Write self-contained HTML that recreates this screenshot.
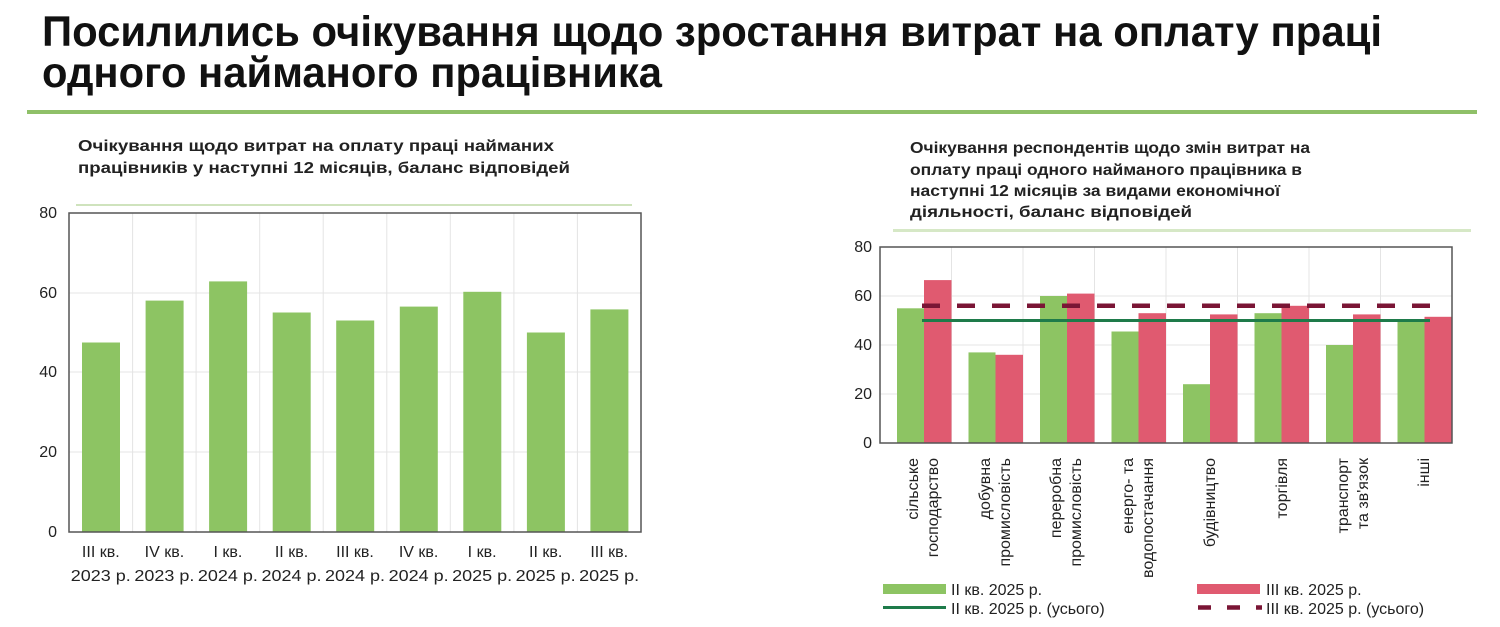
<!DOCTYPE html>
<html><head><meta charset="utf-8"><style>
html,body{margin:0;padding:0;background:#fff;}
svg{display:block;}
text{font-family:"Liberation Sans",sans-serif;}
</style></head><body>
<svg width="1500" height="627" viewBox="0 0 1500 627" xmlns="http://www.w3.org/2000/svg">
<text x="42" y="46" font-size="43" font-weight="bold" fill="#111" textLength="1340" lengthAdjust="spacingAndGlyphs">Посилились очікування щодо зростання витрат на оплату праці</text>
<text x="42" y="87" font-size="43" font-weight="bold" fill="#111" textLength="620" lengthAdjust="spacingAndGlyphs">одного найманого працівника</text>
<rect x="27" y="110" width="1450" height="4" fill="#8fc068"/>

<text x="78" y="151" font-size="16" font-weight="bold" fill="#222" textLength="476" lengthAdjust="spacingAndGlyphs">Очікування щодо витрат на оплату праці найманих</text>
<text x="78" y="173" font-size="16" font-weight="bold" fill="#222" textLength="492" lengthAdjust="spacingAndGlyphs">працівників у наступні 12 місяців, баланс відповідей</text>
<rect x="76" y="204" width="556" height="2" fill="#cfe3bd"/>

<g stroke="#e4e4e4" stroke-width="1">
<line x1="69" y1="452" x2="641" y2="452"/><line x1="69" y1="372" x2="641" y2="372"/><line x1="69" y1="293" x2="641" y2="293"/>
<line x1="132.6" y1="213" x2="132.6" y2="532"/><line x1="196.1" y1="213" x2="196.1" y2="532"/><line x1="259.7" y1="213" x2="259.7" y2="532"/><line x1="323.2" y1="213" x2="323.2" y2="532"/><line x1="386.8" y1="213" x2="386.8" y2="532"/><line x1="450.3" y1="213" x2="450.3" y2="532"/><line x1="513.9" y1="213" x2="513.9" y2="532"/><line x1="577.4" y1="213" x2="577.4" y2="532"/>
</g>
<g fill="#8dc463">
<rect x="82" y="342.5" width="38" height="189.5"/>
<rect x="145.6" y="300.6" width="38" height="231.4"/>
<rect x="209.1" y="281.4" width="38" height="250.6"/>
<rect x="272.7" y="312.5" width="38" height="219.5"/>
<rect x="336.2" y="320.5" width="38" height="211.5"/>
<rect x="399.8" y="306.6" width="38" height="225.4"/>
<rect x="463.3" y="291.8" width="38" height="240.2"/>
<rect x="526.9" y="332.5" width="38" height="199.5"/>
<rect x="590.4" y="309.4" width="38" height="222.6"/>
</g>
<rect x="69" y="213" width="572" height="319" fill="none" stroke="#555" stroke-width="1.5"/>
<g font-size="16" fill="#222" text-anchor="end">
<text x="57" y="218">80</text><text x="57" y="298">60</text><text x="57" y="377">40</text><text x="57" y="457">20</text><text x="57" y="537">0</text>
</g>
<g font-size="16" fill="#222" text-anchor="middle">
<text x="100.8" y="557">III кв.</text><text x="100.8" y="581" textLength="60" lengthAdjust="spacingAndGlyphs">2023 р.</text>
<text x="164.4" y="557">IV кв.</text><text x="164.4" y="581" textLength="60" lengthAdjust="spacingAndGlyphs">2023 р.</text>
<text x="227.9" y="557">I кв.</text><text x="227.9" y="581" textLength="60" lengthAdjust="spacingAndGlyphs">2024 р.</text>
<text x="291.5" y="557">II кв.</text><text x="291.5" y="581" textLength="60" lengthAdjust="spacingAndGlyphs">2024 р.</text>
<text x="355" y="557">III кв.</text><text x="355" y="581" textLength="60" lengthAdjust="spacingAndGlyphs">2024 р.</text>
<text x="418.6" y="557">IV кв.</text><text x="418.6" y="581" textLength="60" lengthAdjust="spacingAndGlyphs">2024 р.</text>
<text x="482.1" y="557">I кв.</text><text x="482.1" y="581" textLength="60" lengthAdjust="spacingAndGlyphs">2025 р.</text>
<text x="545.7" y="557">II кв.</text><text x="545.7" y="581" textLength="60" lengthAdjust="spacingAndGlyphs">2025 р.</text>
<text x="609.2" y="557">III кв.</text><text x="609.2" y="581" textLength="60" lengthAdjust="spacingAndGlyphs">2025 р.</text>
</g>

<g font-size="16" font-weight="bold" fill="#222">
<text x="910" y="153" textLength="400" lengthAdjust="spacingAndGlyphs">Очікування респондентів щодо змін витрат на</text>
<text x="910" y="175" textLength="392" lengthAdjust="spacingAndGlyphs">оплату праці одного найманого працівника в</text>
<text x="910" y="196" textLength="370" lengthAdjust="spacingAndGlyphs">наступні 12 місяців за видами економічної</text>
<text x="910" y="217" textLength="282" lengthAdjust="spacingAndGlyphs">діяльності, баланс відповідей</text>
</g>
<rect x="893" y="229" width="578" height="3" fill="#d6e8c6"/>

<g stroke="#e4e4e4" stroke-width="1">
<line x1="880" y1="394" x2="1452" y2="394"/><line x1="880" y1="345" x2="1452" y2="345"/><line x1="880" y1="296" x2="1452" y2="296"/>
<line x1="951.5" y1="247" x2="951.5" y2="443"/><line x1="1023" y1="247" x2="1023" y2="443"/><line x1="1094.5" y1="247" x2="1094.5" y2="443"/><line x1="1166" y1="247" x2="1166" y2="443"/><line x1="1237.5" y1="247" x2="1237.5" y2="443"/><line x1="1309" y1="247" x2="1309" y2="443"/><line x1="1380.5" y1="247" x2="1380.5" y2="443"/>
</g>
<g fill="#8dc463">
<rect x="897" y="308.3" width="27" height="134.7"/>
<rect x="968.5" y="352.4" width="27" height="90.6"/>
<rect x="1040" y="296" width="27" height="147"/>
<rect x="1111.5" y="331.5" width="27" height="111.5"/>
<rect x="1183" y="384.2" width="27" height="58.8"/>
<rect x="1254.5" y="313.2" width="27" height="129.8"/>
<rect x="1326" y="345" width="27" height="98"/>
<rect x="1397.5" y="320.5" width="27" height="122.5"/>
</g>
<g fill="#e05a70">
<rect x="924" y="280.1" width="27.5" height="162.9"/>
<rect x="995.5" y="354.8" width="27.5" height="88.2"/>
<rect x="1067" y="293.6" width="27.5" height="149.4"/>
<rect x="1138.5" y="313.2" width="27.5" height="129.8"/>
<rect x="1210" y="314.4" width="27.5" height="128.6"/>
<rect x="1281.5" y="305.8" width="27.5" height="137.2"/>
<rect x="1353" y="314.4" width="27.5" height="128.6"/>
<rect x="1424.5" y="316.8" width="27.5" height="126.2"/>
</g>
<line x1="922" y1="320.5" x2="1430" y2="320.5" stroke="#1e7b4a" stroke-width="3"/>
<line x1="922" y1="305.8" x2="1430" y2="305.8" stroke="#7a1535" stroke-width="4.5" stroke-dasharray="18,17"/>
<rect x="880" y="247" width="572" height="196" fill="none" stroke="#555" stroke-width="1.5"/>
<g font-size="16" fill="#222" text-anchor="end">
<text x="872" y="252">80</text><text x="872" y="301">60</text><text x="872" y="350">40</text><text x="872" y="399">20</text><text x="872" y="448">0</text>
</g>
<g font-size="16" fill="#222" text-anchor="end">
<g transform="translate(918,458) rotate(-90)"><text x="0" y="0">сільське</text><text x="0" y="20">господарство</text></g>
<g transform="translate(990,458) rotate(-90)"><text x="0" y="0">добувна</text><text x="0" y="20">промисловість</text></g>
<g transform="translate(1061,458) rotate(-90)"><text x="0" y="0">переробна</text><text x="0" y="20">промисловість</text></g>
<g transform="translate(1133,458) rotate(-90)"><text x="0" y="0">енерго- та</text><text x="0" y="20">водопостачання</text></g>
<g transform="translate(1215,458) rotate(-90)"><text x="0" y="0">будівництво</text></g>
<g transform="translate(1287,458) rotate(-90)"><text x="0" y="0">торгівля</text></g>
<g transform="translate(1348,458) rotate(-90)"><text x="0" y="0">транспорт</text><text x="0" y="20">та зв'язок</text></g>
<g transform="translate(1429,458) rotate(-90)"><text x="0" y="0">інші</text></g>
</g>
<rect x="883" y="584" width="63" height="10" fill="#8dc463"/>
<rect x="1197" y="584" width="63" height="10" fill="#e05a70"/>
<line x1="883" y1="607.5" x2="946" y2="607.5" stroke="#1e7b4a" stroke-width="3"/>
<line x1="1198" y1="607.5" x2="1262" y2="607.5" stroke="#7a1535" stroke-width="4.5" stroke-dasharray="13,16"/>
<g font-size="16" fill="#222">
<text x="951" y="595">II кв. 2025 р.</text>
<text x="1266" y="595">III кв. 2025 р.</text>
<text x="951" y="614">II кв. 2025 р. (усього)</text>
<text x="1266" y="614">III кв. 2025 р. (усього)</text>
</g>
</svg>
</body></html>
